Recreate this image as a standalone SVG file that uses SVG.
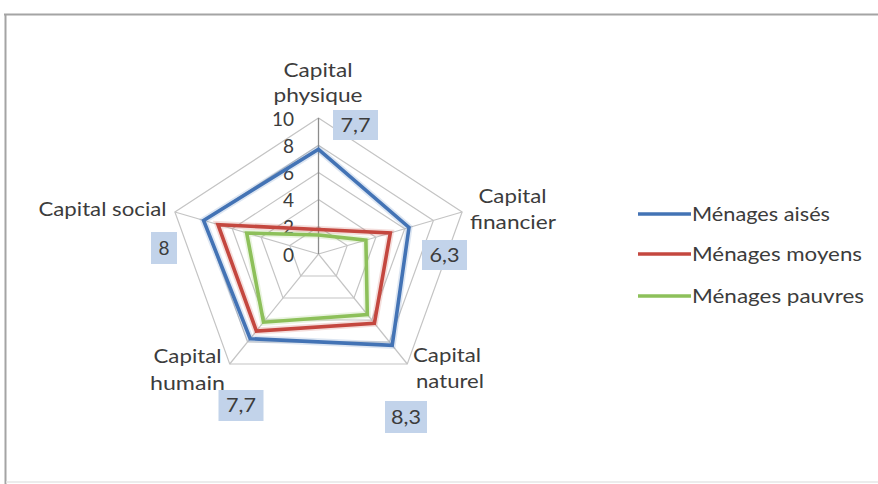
<svg xmlns="http://www.w3.org/2000/svg" width="878" height="484" viewBox="0 0 878 484">
  <style>
    text { font-family: Lato, "Open Sans", "Liberation Sans", sans-serif; font-size: 19px; fill: #3c3c3c; }
    .mid { text-anchor: middle; }
    .end { text-anchor: end; }
    .grid { fill: none; stroke: #c4c4c4; stroke-width: 1.2; }
    .spoke { stroke: #c4c4c4; stroke-width: 1.2; }
    .axis { stroke: #8c8c8c; stroke-width: 1.3; }
    .series { fill: none; stroke-width: 3.6; stroke-linejoin: miter; }
    .halo { fill: none; stroke-width: 7; stroke-linejoin: miter; opacity: 0.18; }
    .aises { stroke: #4373b5; }
    .moyens { stroke: #c4473f; }
    .pauvres { stroke: #8dc05a; }
    .lbl { fill: #c2d3ea; }
  </style>

  <!-- chart frame -->
  <g id="frame">
    <rect x="0" y="0" width="878" height="484" fill="#ffffff"/>
    <line x1="4" y1="14.5" x2="878" y2="14.5" stroke="#a4a4a4" stroke-width="2"/>
    <line x1="5.5" y1="14" x2="5.5" y2="484" stroke="#a4a4a4" stroke-width="2"/>
    <line x1="6" y1="482" x2="878" y2="482" stroke="#e6e6e6" stroke-width="1.5"/>
  </g>

  <!-- radar grid: levels 2..10, centre (318.5,254) -->
  <g id="grid">
    <polygon class="grid" points="318.5,118 462.1,212 407.3,364 229.7,364 174.9,212"/>
    <polygon class="grid" points="318.5,145.2 433.4,220.4 389.5,342 247.5,342 203.6,220.4"/>
    <polygon class="grid" points="318.5,172.4 404.7,228.8 371.8,320 265.2,320 232.3,228.8"/>
    <polygon class="grid" points="318.5,199.6 375.9,237.2 354,298 283,298 261.1,237.2"/>
    <polygon class="grid" points="318.5,226.8 347.2,245.6 336.3,276 300.7,276 289.8,245.6"/>
    <line class="spoke" x1="318.5" y1="254" x2="462.1" y2="212"/>
    <line class="spoke" x1="318.5" y1="254" x2="407.3" y2="364"/>
    <line class="spoke" x1="318.5" y1="254" x2="229.7" y2="364"/>
    <line class="spoke" x1="318.5" y1="254" x2="174.9" y2="212"/>
    <line class="axis" x1="318.5" y1="254" x2="318.5" y2="118"/>
  </g>

  <!-- value axis scale -->
  <g id="scale">
    <text class="end" x="294" y="125.5">10</text>
    <text class="end" x="294" y="152.7">8</text>
    <text class="end" x="294" y="179.9">6</text>
    <text class="end" x="294" y="207.1">4</text>
    <text class="end" x="294" y="234.3">2</text>
    <text class="end" x="294" y="261.5">0</text>
  </g>

  <!-- data series -->
  <g id="connectors">
    <polygon class="halo pauvres" points="318.5,235 365.9,240.1 367.3,314.5 263.5,322.2 246.7,233"/>
    <polygon class="series pauvres" points="318.5,235 365.9,240.1 367.3,314.5 263.5,322.2 246.7,233"/>
    <polygon class="halo moyens" points="318.5,229.5 390.3,233 374.4,323.3 256.4,331 218,224.6"/>
    <polygon class="series moyens" points="318.5,229.5 390.3,233 374.4,323.3 256.4,331 218,224.6"/>
    <polygon class="halo aises" points="318.5,149.3 409,227.5 392.2,345.3 250.2,338.7 203.6,220.4"/>
    <polygon class="series aises" points="318.5,149.3 409,227.5 392.2,345.3 250.2,338.7 203.6,220.4"/>
  </g>

  <!-- axis categories with value labels -->
  <g id="capital-physique">
    <text class="mid" x="318" y="77" textLength="69" lengthAdjust="spacingAndGlyphs">Capital</text>
    <text class="mid" x="318" y="102" textLength="89" lengthAdjust="spacingAndGlyphs">physique</text>
    <rect class="lbl" x="333" y="110" width="45" height="30"/>
    <text class="mid" x="355.5" y="131.5" textLength="30" lengthAdjust="spacingAndGlyphs">7,7</text>
  </g>
  <g id="capital-financier">
    <text class="mid" x="512.5" y="203" textLength="68" lengthAdjust="spacingAndGlyphs">Capital</text>
    <text class="mid" x="513" y="229" textLength="86" lengthAdjust="spacingAndGlyphs">financier</text>
    <rect class="lbl" x="422" y="240" width="45" height="30"/>
    <text class="mid" x="444.5" y="261.5" textLength="30" lengthAdjust="spacingAndGlyphs">6,3</text>
  </g>
  <g id="capital-naturel">
    <text class="mid" x="447" y="362" textLength="68" lengthAdjust="spacingAndGlyphs">Capital</text>
    <text class="mid" x="450" y="388" textLength="68" lengthAdjust="spacingAndGlyphs">naturel</text>
    <rect class="lbl" x="385" y="401" width="42" height="32"/>
    <text class="mid" x="406" y="423.5" textLength="30" lengthAdjust="spacingAndGlyphs">8,3</text>
  </g>
  <g id="capital-humain">
    <text class="mid" x="187.5" y="363" textLength="68" lengthAdjust="spacingAndGlyphs">Capital</text>
    <text class="mid" x="187.5" y="390" textLength="75" lengthAdjust="spacingAndGlyphs">humain</text>
    <rect class="lbl" x="218.5" y="390" width="45" height="31"/>
    <text class="mid" x="241" y="412" textLength="30" lengthAdjust="spacingAndGlyphs">7,7</text>
  </g>
  <g id="capital-social">
    <text x="38.5" y="216" textLength="128" lengthAdjust="spacingAndGlyphs">Capital social</text>
    <rect class="lbl" x="151" y="232" width="26" height="32"/>
    <text class="mid" x="164" y="254.5">8</text>
  </g>

  <!-- legend -->
  <g id="legend">
    <line class="series aises" x1="638" y1="214" x2="691" y2="214" stroke-width="3.2"/>
    <text x="692" y="220.5" textLength="138" lengthAdjust="spacingAndGlyphs">Ménages aisés</text>
    <line class="series moyens" x1="638" y1="254" x2="691" y2="254" stroke-width="3.2"/>
    <text x="692" y="260.5" textLength="170" lengthAdjust="spacingAndGlyphs">Ménages moyens</text>
    <line class="series pauvres" x1="638" y1="296" x2="691" y2="296" stroke-width="3.2"/>
    <text x="692" y="302.5" textLength="172" lengthAdjust="spacingAndGlyphs">Ménages pauvres</text>
  </g>
</svg>
